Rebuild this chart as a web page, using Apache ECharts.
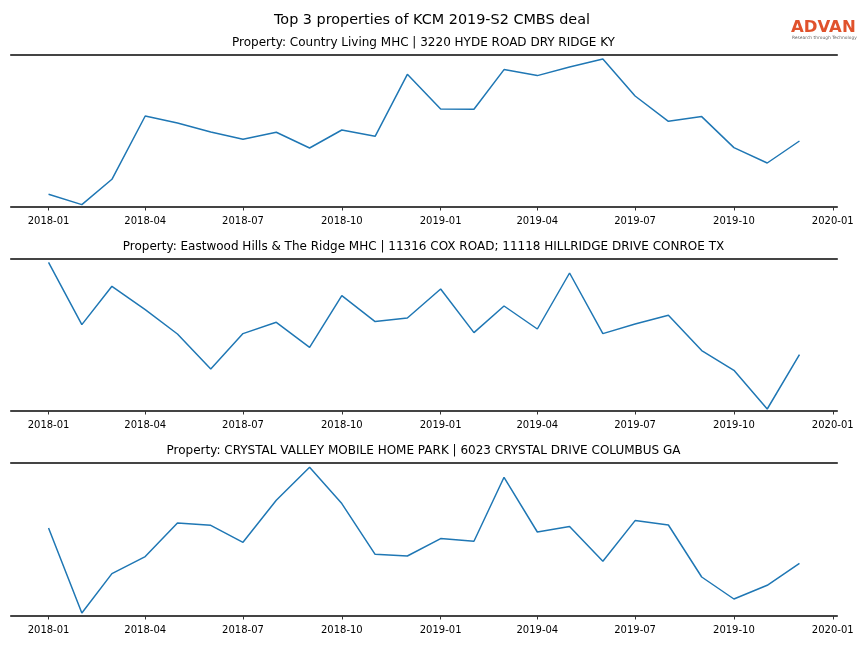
<!DOCTYPE html>
<html>
<head>
<meta charset="utf-8">
<script src="https://cdn.jsdelivr.net/npm/echarts@6/dist/echarts.min.js"></script>
<style>
html,body{margin:0;padding:0;background:#fff;}
#chart{width:864px;height:648px;}
</style>
</head>
<body>
<div id="chart"></div>
<script>
// ---- data ----
const mainTitle = 'Top 3 properties of KCM 2019-S2 CMBS deal';
const panelTitles = [
  'Property: Country Living MHC | 3220 HYDE ROAD DRY RIDGE KY',
  'Property: Eastwood Hills & The Ridge MHC | 11316 COX ROAD; 11118 HILLRIDGE DRIVE CONROE TX',
  'Property: CRYSTAL VALLEY MOBILE HOME PARK | 6023 CRYSTAL DRIVE COLUMBUS GA'
];
const months = ['2018-01','2018-02','2018-03','2018-04','2018-05','2018-06','2018-07','2018-08','2018-09','2018-10','2018-11','2018-12',
                '2019-01','2019-02','2019-03','2019-04','2019-05','2019-06','2019-07','2019-08','2019-09','2019-10','2019-11','2019-12'];
const countryLiving = [12.7,2.4,27.7,91.0,84.0,75.0,67.7,74.7,59.0,77.0,70.7,132.7,98.0,97.7,137.4,131.4,140.0,148.0,111.0,85.7,90.4,59.4,44.0,66.0];
const eastwoodHills = [148.7,86.4,124.7,101.4,77.0,42.0,77.4,88.7,63.7,115.4,89.4,93.0,122.0,78.4,105.0,82.0,138.0,77.4,87.0,95.7,60.4,40.7,2.0,56.4];
const crystalValley = [88.0,3.0,42.4,59.4,93.0,90.7,73.7,115.7,148.7,112.4,61.7,60.0,77.4,74.7,138.7,84.0,89.4,54.7,95.4,91.0,39.0,17.0,30.7,52.7];
const tickLabels = ['2018-01','2018-04','2018-07','2018-10','2019-01','2019-04','2019-07','2019-10','2020-01'];
const seriesList = [countryLiving, eastwoodHills, crystalValley];
const yMax = [152, 152, 153];

// ---- helpers ----
function toMs(s){ const p = s.split('-'); return Date.UTC(+p[0], +p[1]-1, 1); }
const DAY = 86400000;
const first = toMs(months[0]), last = toMs(months[months.length-1]);
const pad = (last - first) * 0.05;
const xMin = first - pad, xMax = last + pad;
const tickMs = tickLabels.map(toMs);
function fmt(v){ const i = tickMs.findIndex(t => Math.abs(t - v) < DAY); return i >= 0 ? tickLabels[i] : ''; }

const FONT = 'DejaVu Sans';
const gridTops = [55, 259, 463];
const grids = [], xAxes = [], yAxes = [], series = [], titles = [];

titles.push({text: mainTitle, left: 'center', top: 13, padding: 0,
  textStyle: {fontFamily: FONT, fontSize: 14.4, fontWeight: 'normal', color: '#000'}});

for (let k = 0; k < 3; k++) {
  grids.push({left: 11, right: 27, top: gridTops[k], height: yMax[k], containLabel: false});
  titles.push({text: panelTitles[k], left: 423.5, textAlign: 'center', top: gridTops[k] - 18.5, padding: 0,
    textStyle: {fontFamily: FONT, fontSize: 12, fontWeight: 'normal', color: '#000'}});
  xAxes.push({
    type: 'value', gridIndex: k, position: 'bottom', min: xMin, max: xMax, scale: true,
    axisLine: {show: true, lineStyle: {color: '#444', width: 2.2}},
    axisTick: {show: true, length: 3.5, lineStyle: {color: '#333', width: 1}, customValues: tickMs},
    axisLabel: {show: true, margin: 9, fontFamily: FONT, fontSize: 10, color: '#000',
      customValues: tickMs, formatter: fmt, hideOverlap: false, showMinLabel: true, showMaxLabel: true},
    splitLine: {show: false}
  });
  xAxes.push({
    type: 'value', gridIndex: k, position: 'top', min: xMin, max: xMax, scale: true,
    axisLine: {show: true, lineStyle: {color: '#444', width: 2.2}},
    axisTick: {show: false}, axisLabel: {show: false}, splitLine: {show: false}
  });
  yAxes.push({type: 'value', gridIndex: k, min: 0, max: yMax[k], show: false, splitLine: {show: false}});
  series.push({
    type: 'line', xAxisIndex: 2*k, yAxisIndex: k,
    data: months.map((m, i) => [toMs(m), seriesList[k][i]]),
    showSymbol: false, symbol: 'none', silent: true, animation: false,
    lineStyle: {color: '#1f77b4', width: 1.5}
  });
}

const chart = echarts.init(document.getElementById('chart'), null, {renderer: 'canvas'});
chart.setOption({
  animation: false,
  backgroundColor: '#fff',
  title: titles,
  grid: grids, xAxis: xAxes, yAxis: yAxes, series: series,
  graphic: [
    {type: 'text', left: 791, top: 19, style: {text: 'ADVAN', fontFamily: FONT, fontSize: 16.5, fontWeight: 'bold', fill: '#e0522c'}},
    {type: 'text', left: 792, top: 36, style: {text: 'Research through Technology', fontFamily: FONT, fontSize: 4.4, fill: '#666'}}
  ]
});
</script>
</body>
</html>
